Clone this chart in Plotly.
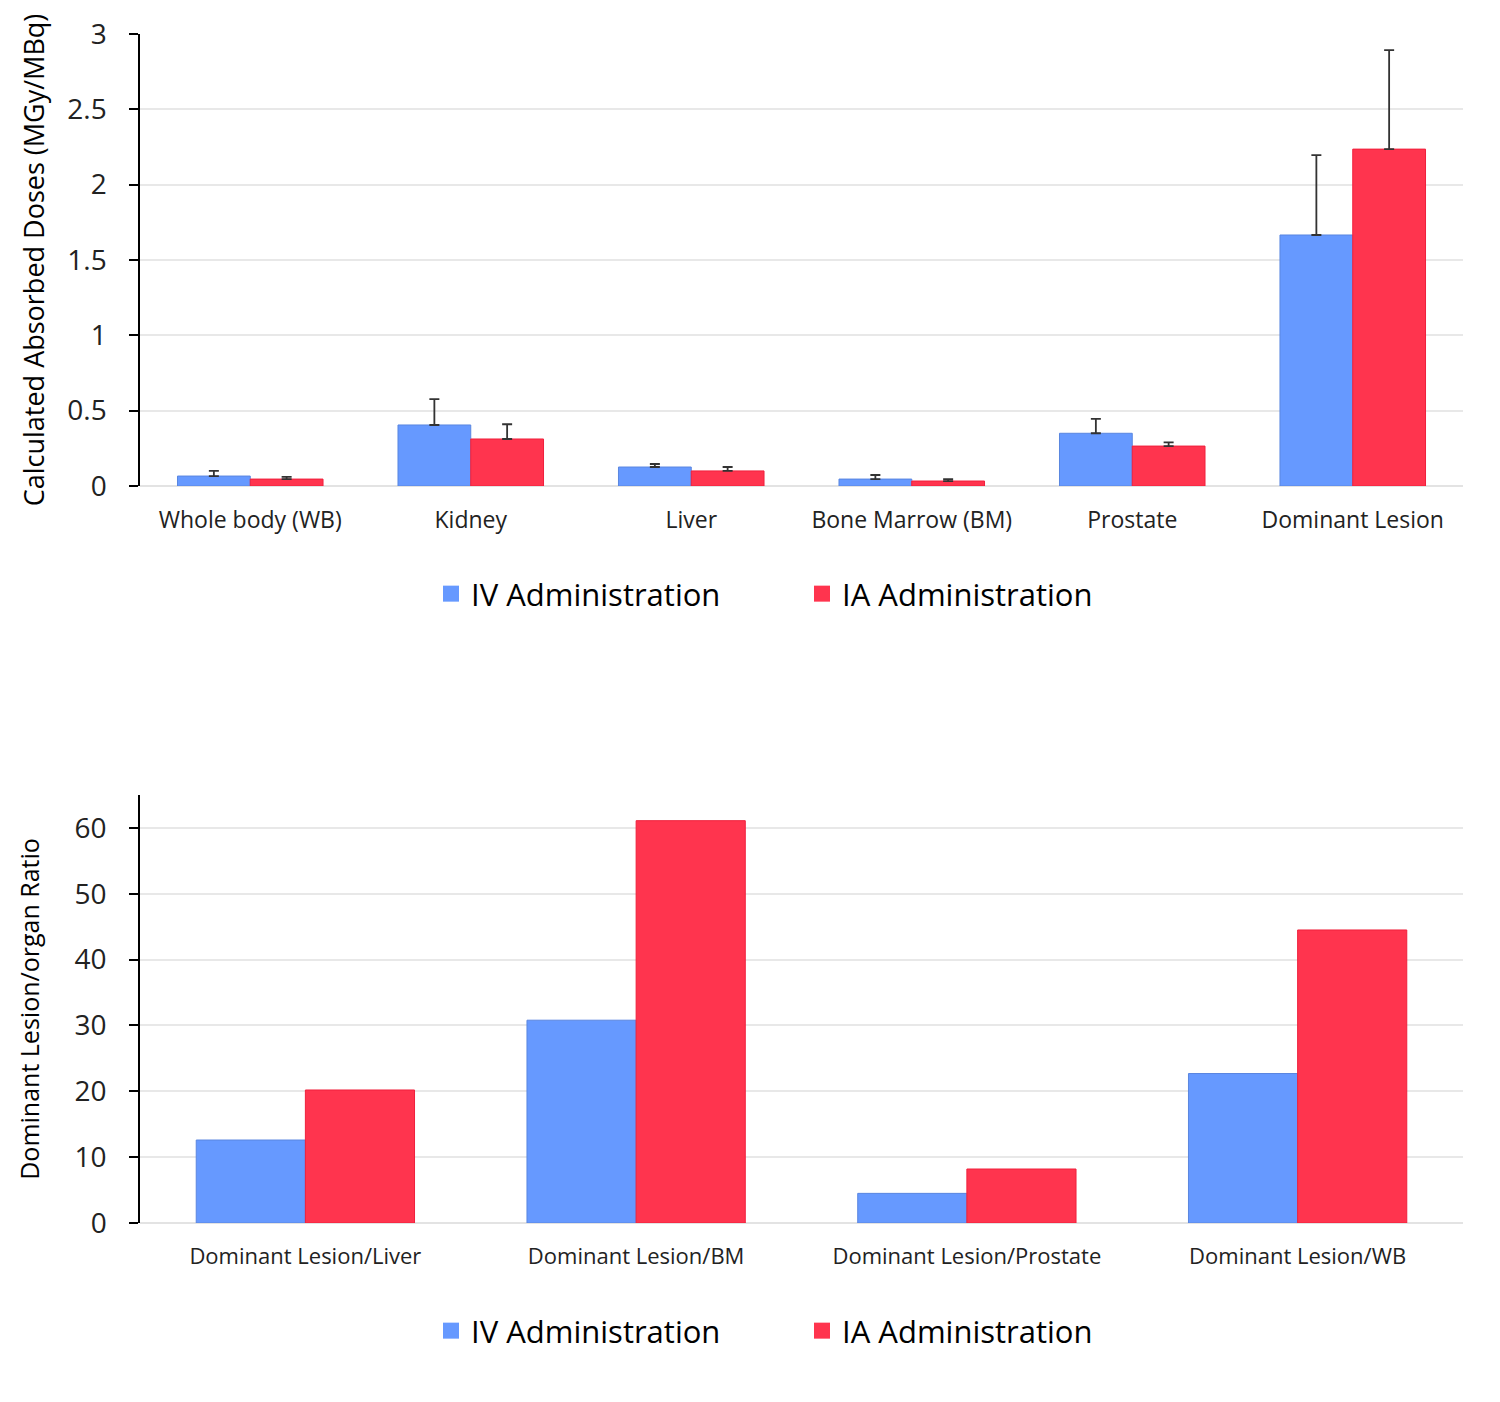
import plotly.graph_objects as go

# top panel: absorbed doses
organs = ["Whole body (WB)", "Kidney", "Liver", "Bone Marrow (BM)", "Prostate", "Dominant Lesion"]
iv_dose = [0.066, 0.405, 0.126, 0.046, 0.35, 1.666]
iv_err = [0.034, 0.172, 0.020, 0.027, 0.095, 0.530]
ia_dose = [0.046, 0.312, 0.100, 0.033, 0.265, 2.236]
ia_err = [0.014, 0.098, 0.026, 0.013, 0.025, 0.657]

# bottom panel: lesion/organ ratios
ratios = ["Dominant Lesion/Liver", "Dominant Lesion/BM", "Dominant Lesion/Prostate", "Dominant Lesion/WB"]
iv_ratio = [12.6, 30.8, 4.5, 22.7]
ia_ratio = [20.2, 61.1, 8.2, 44.5]

BLUE = "#6699FF"
RED = "#FF344E"
FONT = "Open Sans"
OFF = 8  # page body margin
W, H = 1500 - 2 * OFF, 1402 - 2 * OFF


def px_x(v):
    return (v - OFF) / W


def px_y(v):
    return 1 - (v - OFF) / H


fig = go.Figure()

errstyle = dict(type="data", symmetric=False, color="#333333", thickness=1.8, width=5)

fig.add_trace(go.Bar(x=organs, y=iv_dose, marker=dict(color=BLUE, line=dict(color="#5a86e0", width=1)),
                     error_y=dict(array=iv_err, arrayminus=[0] * 6, **errstyle),
                     showlegend=False, xaxis="x", yaxis="y"))
fig.add_trace(go.Bar(x=organs, y=ia_dose, marker=dict(color=RED, line=dict(color="#f0203c", width=1)),
                     error_y=dict(array=ia_err, arrayminus=[0] * 6, **errstyle),
                     showlegend=False, xaxis="x", yaxis="y"))

fig.add_trace(go.Bar(x=ratios, y=iv_ratio, marker=dict(color=BLUE, line=dict(color="#5a86e0", width=1)),
                     showlegend=False, xaxis="x2", yaxis="y2"))
fig.add_trace(go.Bar(x=ratios, y=ia_ratio, marker=dict(color=RED, line=dict(color="#f0203c", width=1)),
                     showlegend=False, xaxis="x2", yaxis="y2"))

# legend entries with square swatches
for name, col, leg in [("IV Administration", BLUE, "legend"), ("IA Administration", RED, "legend"),
                       ("IV Administration", BLUE, "legend2"), ("IA Administration", RED, "legend2")]:
    fig.add_trace(go.Scatter(x=[None], y=[None], mode="markers", name=name,
                             marker=dict(symbol="square", size=22, color=col),
                             legend=leg, xaxis="x", yaxis="y"))

common_x = dict(domain=[px_x(140), px_x(1463)], showline=False, ticks="", showgrid=False,
                automargin=False, ticklabelstandoff=18)
common_y = dict(showline=True, linecolor="black", linewidth=1.5, ticks="outside", ticklen=9,
                tickcolor="black", tickwidth=1.5, gridcolor="#e8e8e8", gridwidth=1.5,
                zeroline=True, zerolinecolor="#e3e3e3", zerolinewidth=2,
                automargin=False, ticklabelstandoff=17,
                tickfont=dict(family=FONT, size=28, color="#222"))

legend_style = dict(orientation="h", xanchor="center", yanchor="middle", x=px_x(802),
                    font=dict(family=FONT, size=31, color="black"),
                    entrywidth=326, itemwidth=30, bgcolor="rgba(0,0,0,0)")

fig.update_layout(
    width=W, height=H,
    margin=dict(l=0, r=0, t=0, b=0),
    paper_bgcolor="white", plot_bgcolor="white",
    barmode="group", bargap=0.34, bargroupgap=0,
    xaxis=dict(anchor="y", tickfont=dict(family=FONT, size=23, color="#222"), **common_x),
    yaxis=dict(anchor="x", domain=[px_y(486), px_y(34)], range=[0, 3], dtick=0.5,
               title=dict(text="Calculated Absorbed Doses (MGy/MBq)",
                          font=dict(family=FONT, size=27, color="black")),
               **common_y),
    xaxis2=dict(anchor="y2", tickfont=dict(family=FONT, size=22, color="#222"), **common_x),
    yaxis2=dict(anchor="x2", domain=[px_y(1223), px_y(795)], range=[0, 65],
                tickvals=[0, 10, 20, 30, 40, 50, 60],
                title=dict(text="Dominant Lesion/organ Ratio", standoff=28,
                           font=dict(family=FONT, size=25, color="black")),
                **common_y),
    legend=dict(y=px_y(594), **legend_style),
    legend2=dict(y=px_y(1331), **legend_style),
)

fig.write_html("out.html")
